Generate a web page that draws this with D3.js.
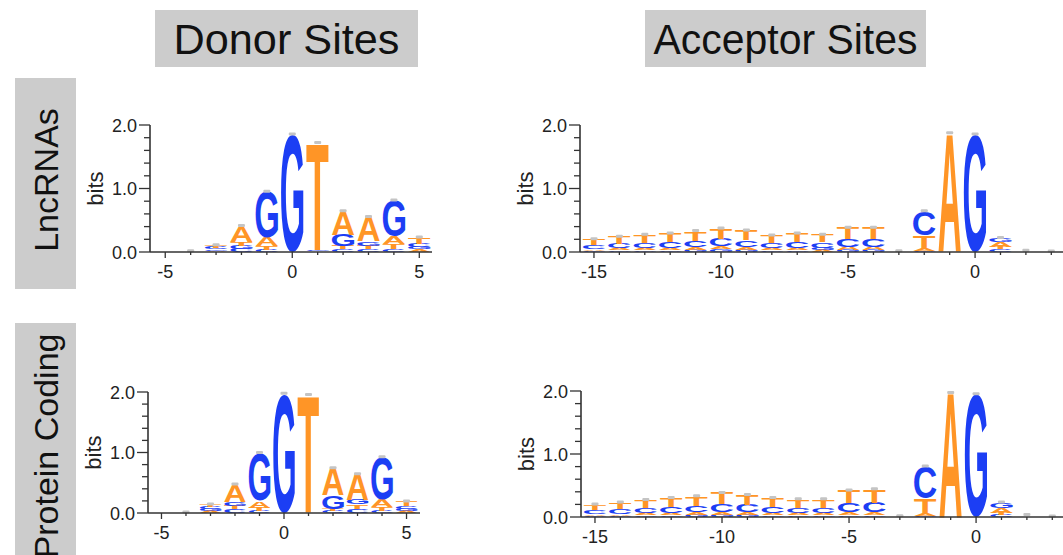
<!DOCTYPE html>
<html>
<head>
<meta charset="utf-8">
<script src="https://cdn.jsdelivr.net/npm/d3@7"></script>
<style>
  html, body { margin: 0; padding: 0; background: #ffffff; }
  svg { display: block; }
</style>
</head>
<body>
<svg id="chart" width="1063" height="555"></svg>
<script>
// ---------------- DATA ----------------
const colTitles = ["Donor Sites", "Acceptor Sites"];
const rowTitles = ["LncRNAs", "Protein Coding"];
const bases = ["A", "C", "G", "T"];
const yTickValues = [0, 1, 2];
const yTickLabels = ["0.0", "1.0", "2.0"];
const donorPositions = [-5, -4, -3, -2, -1, 0, 1, 2, 3, 4, 5];
const acceptorPositions = [-15, -14, -13, -12, -11, -10, -9, -8, -7, -6, -5, -4, -3, -2, -1, 0, 1, 2, 3];
const donorTickLabels = [-5, 0, 5];
const acceptorTickLabels = [-15, -10, -5, 0];

// LncRNA donor (bits per base, positions -5..5)
const lncDonorA = [0, 0.003, 0.02, 0.25, 0.14, 0.0, 0.005, 0.37, 0.38, 0.13, 0.04];
const lncDonorC = [0, 0.002, 0.03, 0.05, 0.03, 0.0, 0.01, 0.04, 0.04, 0.04, 0.05];
const lncDonorG = [0, 0.002, 0.02, 0.05, 0.72, 1.85, 0.02, 0.18, 0.07, 0.56, 0.04];
const lncDonorT = [0, 0.003, 0.035, 0.06, 0.06, 0.0, 1.68, 0.05, 0.06, 0.08, 0.1];

// Protein coding donor
const pcDonorA = [0, 0.003, 0.03, 0.28, 0.11, 0.0, 0.005, 0.45, 0.42, 0.12, 0.03];
const pcDonorC = [0, 0.002, 0.04, 0.06, 0.03, 0.0, 0.005, 0.03, 0.07, 0.04, 0.05];
const pcDonorG = [0, 0.002, 0.03, 0.07, 0.79, 1.97, 0.01, 0.22, 0.08, 0.70, 0.03];
const pcDonorT = [0, 0.003, 0.04, 0.06, 0.06, 0.0, 1.93, 0.04, 0.07, 0.06, 0.08];

// LncRNA acceptor (positions -15..3)
const lncAccA = [0.025, 0.03, 0.035, 0.035, 0.04, 0.045, 0.04, 0.03, 0.035, 0.03, 0.05, 0.05, 0.002, 0.03, 1.87, 0.0, 0.07, 0.004, 0.002];
const lncAccC = [0.065, 0.075, 0.085, 0.095, 0.105, 0.115, 0.11, 0.085, 0.095, 0.09, 0.12, 0.12, 0.003, 0.38, 0.0, 0.0, 0.04, 0.005, 0.002];
const lncAccG = [0.02, 0.025, 0.025, 0.025, 0.035, 0.04, 0.035, 0.025, 0.025, 0.03, 0.03, 0.03, 0.002, 0.02, 0.0, 1.85, 0.07, 0.004, 0.002];
const lncAccT = [0.09, 0.11, 0.125, 0.135, 0.15, 0.17, 0.155, 0.12, 0.135, 0.12, 0.18, 0.18, 0.003, 0.21, 0.0, 0.0, 0.04, 0.005, 0.003];

// Protein coding acceptor
const pcAccA = [0.025, 0.028, 0.03, 0.035, 0.04, 0.045, 0.04, 0.035, 0.035, 0.035, 0.045, 0.045, 0.002, 0.03, 1.97, 0.0, 0.07, 0.007, 0.001];
const pcAccC = [0.065, 0.075, 0.09, 0.1, 0.11, 0.125, 0.115, 0.1, 0.09, 0.09, 0.15, 0.16, 0.003, 0.5, 0.0, 0.0, 0.03, 0.008, 0.002];
const pcAccG = [0.02, 0.022, 0.025, 0.025, 0.03, 0.035, 0.035, 0.025, 0.025, 0.025, 0.025, 0.025, 0.002, 0.02, 0.0, 1.95, 0.09, 0.007, 0.001];
const pcAccT = [0.09, 0.105, 0.125, 0.14, 0.15, 0.175, 0.16, 0.14, 0.13, 0.13, 0.2, 0.21, 0.003, 0.25, 0.0, 0.0, 0.04, 0.008, 0.002];

// ---------------- STYLE / LAYOUT ----------------
const baseColor = { A: "#ff9526", C: "#1c3ef4", G: "#1c3ef4", T: "#ff9526" };
const FONT = "'Liberation Sans', Arial, Helvetica, sans-serif";

const panels = [
  { pos: donorPositions, data: [lncDonorA, lncDonorC, lncDonorG, lncDonorT], labels: donorTickLabels,
    dom: [-5.6, 5.5], xr: [150, 432], yr: [252, 125] },
  { pos: acceptorPositions, data: [lncAccA, lncAccC, lncAccG, lncAccT], labels: acceptorTickLabels,
    dom: [-15.55, 3.5], xr: [580, 1064], yr: [252, 125] },
  { pos: donorPositions, data: [pcDonorA, pcDonorC, pcDonorG, pcDonorT], labels: donorTickLabels,
    dom: [-5.55, 5.55], xr: [148, 420], yr: [513, 392] },
  { pos: acceptorPositions, data: [pcAccA, pcAccC, pcAccG, pcAccT], labels: acceptorTickLabels,
    dom: [-15.55, 3.5], xr: [581, 1065], yr: [517, 391] }
];

const svg = d3.select("#chart");

// ---- headers ----
const colBoxes = [
  { x: 155, y: 10, w: 263, h: 57 },
  { x: 645, y: 10, w: 281, h: 57 }
];
colBoxes.forEach((b, i) => {
  svg.append("rect").attr("x", b.x).attr("y", b.y).attr("width", b.w).attr("height", b.h).attr("fill", "#cccccc");
  svg.append("text").attr("x", b.x + b.w / 2).attr("y", b.y + b.h / 2 + 15)
    .attr("text-anchor", "middle").attr("font-family", FONT).attr("font-size", 42).attr("fill", "#111")
    .attr("textLength", i === 0 ? 226 : 264).attr("lengthAdjust", "spacingAndGlyphs")
    .text(colTitles[i]);
});
const rowBoxes = [
  { x: 15, y: 78, w: 61, h: 211 },
  { x: 15, y: 323, w: 61, h: 240 }
];
const rowCenters = [180, 446];
rowBoxes.forEach((b, i) => {
  svg.append("rect").attr("x", b.x).attr("y", b.y).attr("width", b.w).attr("height", b.h).attr("fill", "#cccccc");
  svg.append("text").attr("transform", `translate(${b.x + b.w / 2 + 12},${rowCenters[i]}) rotate(-90)`)
    .attr("text-anchor", "middle").attr("font-family", FONT).attr("font-size", 34).attr("fill", "#111")
    .text(rowTitles[i]);
});

// ---- glyph metrics via canvas ----
const ctx = document.createElement("canvas").getContext("2d");
ctx.font = "bold 100px " + FONT;
const metrics = {};
bases.forEach(b => {
  const m = ctx.measureText(b);
  metrics[b] = { l: m.actualBoundingBoxLeft, r: m.actualBoundingBoxRight, a: m.actualBoundingBoxAscent, d: m.actualBoundingBoxDescent };
});

// ---- panels ----
panels.forEach(p => {
  const x = d3.scaleLinear().domain(p.dom).range(p.xr);
  const y = d3.scaleLinear().domain([0, 2]).range(p.yr);
  const unit = x(1) - x(0);
  const g = svg.append("g");

  // logo stacks
  p.pos.forEach((pos, i) => {
    const items = bases.map((b, k) => ({ b, v: p.data[k][i] })).sort((a, c) => a.v - c.v);
    let cum = 0;
    const w = unit * 0.88;
    const x0 = x(pos) - w / 2;
    items.forEach(it => {
      const yb = y(cum), yt = y(cum + it.v);
      cum += it.v;
      const h = yb - yt;
      if (h < 0.8) return;
      const m = metrics[it.b];
      const sx = w / (m.l + m.r), sy = h / (m.a + m.d);
      g.append("text").text(it.b)
        .attr("font-family", FONT).attr("font-weight", "bold").attr("font-size", 100)
        .attr("fill", baseColor[it.b])
        .attr("transform", `translate(${x0},${yt}) scale(${sx},${sy}) translate(${m.l},${m.a})`);
    });
    if (cum > 0.004) {
      g.append("rect").attr("x", x(pos) - 3.5).attr("y", y(cum) - 2).attr("width", 7).attr("height", 3)
        .attr("fill", "#c4c4c4").attr("rx", 1);
    }
  });

  // axes
  const axisColor = "#333";
  g.append("line").attr("x1", p.xr[0]).attr("x2", p.xr[1]).attr("y1", y(0)).attr("y2", y(0))
    .attr("stroke", axisColor).attr("stroke-width", 1.6);
  g.append("line").attr("x1", p.xr[0]).attr("x2", p.xr[0]).attr("y1", y(0)).attr("y2", y(2))
    .attr("stroke", axisColor).attr("stroke-width", 1.6);

  // x ticks
  const xMinor = d3.range(Math.ceil(p.dom[0]), Math.floor(p.dom[1]) + 1);
  xMinor.forEach(v => {
    const major = p.labels.includes(v);
    g.append("line").attr("x1", x(v)).attr("x2", x(v)).attr("y1", y(0)).attr("y2", y(0) + (major ? 6 : 3))
      .attr("stroke", axisColor).attr("stroke-width", 1.3);
  });
  p.labels.forEach(v => {
    g.append("text").attr("x", x(v)).attr("y", y(0) + 26).attr("text-anchor", "middle")
      .attr("font-family", FONT).attr("font-size", 18).attr("fill", "#222").text(v);
  });

  // y ticks
  d3.range(0, 11).forEach(k => {
    const v = k * 0.2;
    const major = k % 5 === 0;
    g.append("line").attr("x1", p.xr[0] - (major ? 11 : 6)).attr("x2", p.xr[0]).attr("y1", y(v)).attr("y2", y(v))
      .attr("stroke", axisColor).attr("stroke-width", 1.3);
  });
  yTickValues.forEach((v, k) => {
    g.append("text").attr("x", p.xr[0] - 13).attr("y", y(v) + 6.5).attr("text-anchor", "end")
      .attr("font-family", FONT).attr("font-size", 18).attr("fill", "#222").text(yTickLabels[k]);
  });
  g.append("text").attr("transform", `translate(${p.xr[0] - 47},${(y(0) + y(2)) / 2}) rotate(-90)`)
    .attr("text-anchor", "middle").attr("font-family", FONT).attr("font-size", 22).attr("fill", "#222").text("bits");
});
</script>
</body>
</html>
